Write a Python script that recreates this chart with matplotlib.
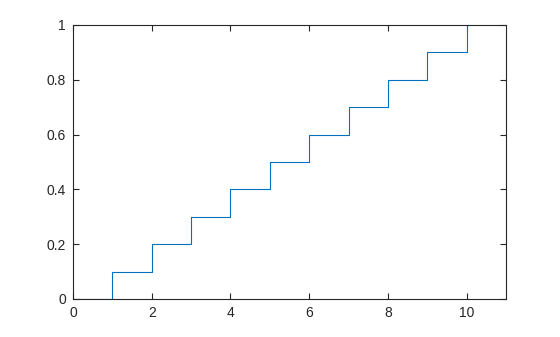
import matplotlib
matplotlib.use("Agg")
import matplotlib.pyplot as plt

# empirical CDF of the values 1..10
x_vals = [0, 1, 2, 3, 4, 5, 6, 7, 8, 9, 10]
cdf_vals = [0.0, 0.1, 0.2, 0.3, 0.4, 0.5, 0.6, 0.7, 0.8, 0.9, 1.0]

x_ticks = [0, 2, 4, 6, 8, 10]
y_ticks = [0, 0.2, 0.4, 0.6, 0.8, 1]
y_labels = ["0", "0.2", "0.4", "0.6", "0.8", "1"]

plt.rcParams["font.family"] = ["Liberation Sans", "DejaVu Sans"]

fig = plt.figure(figsize=(5.6, 3.37), dpi=100, facecolor="white")
ax = fig.add_axes([73 / 560, 1 - 299 / 337, (506 - 73) / 560, (299 - 25) / 337])

ax.step(x_vals, cdf_vals, where="post", color="#0072BD", linewidth=0.8)

ax.set_xlim(0, 11)
ax.set_ylim(0, 1)
ax.set_xticks(x_ticks)
ax.set_xticklabels([str(t) for t in x_ticks])
ax.set_yticks(y_ticks)
ax.set_yticklabels(y_labels)
ax.tick_params(direction="in", top=True, right=True, length=4, width=0.8,
               labelsize=10, colors="#262626", pad=5)
for s in ax.spines.values():
    s.set_color("#262626")
    s.set_linewidth(0.8)

fig.savefig("out.png", dpi=100)
